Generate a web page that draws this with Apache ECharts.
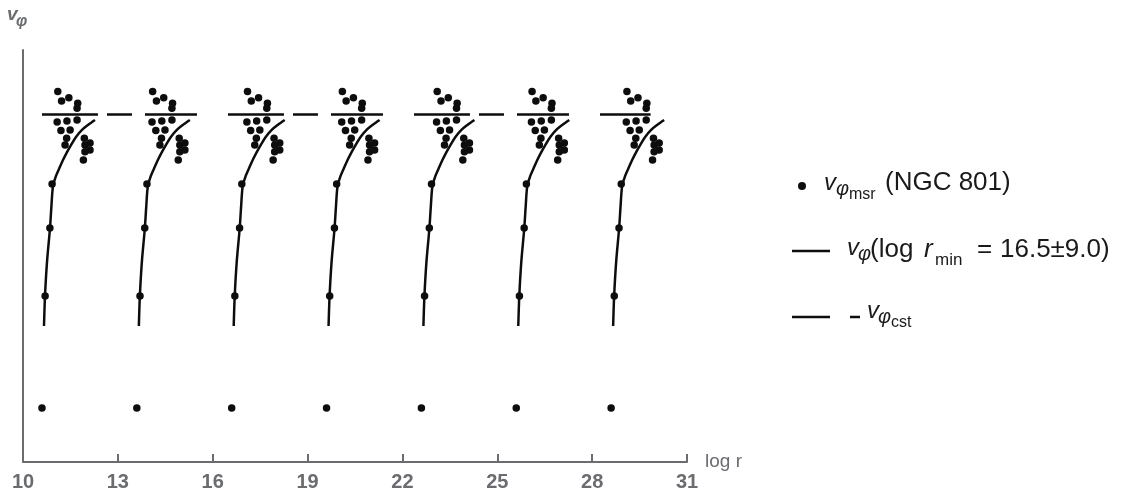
<!DOCTYPE html>
<html>
<head>
<meta charset="utf-8">
<script src="https://cdn.jsdelivr.net/npm/echarts@6/dist/echarts.min.js"></script>
<style>
html,body{margin:0;padding:0;background:#fff;}
#chart{width:1137px;height:495px;}
</style>
</head>
<body>
<div id="chart"></div>
<script>
// ---- data ----
// horizontal shift (in log r) of each repeated cluster
const clusterShifts = [0, 3, 6, 9, 12, 15, 18];
// measured rotation velocities of one cluster (log r, v)
const msrR = [10.60, 10.70, 10.85, 10.92, 11.10, 11.22, 11.45, 11.73, 11.71, 11.08, 11.39, 11.71, 11.20, 11.49, 11.38, 11.33, 11.94, 11.96, 11.96, 11.91, 12.12, 12.12];
const msrV = [39.3, 120.9, 170.4, 202.4, 269.7, 262.9, 265.3, 261.2, 257.6, 247.6, 248.3, 249.0, 241.3, 241.8, 235.7, 230.8, 235.7, 230.8, 226.0, 219.9, 227.2, 232.3];
// model curve of one cluster
const modelR = [10.664, 10.696, 10.759, 10.854, 10.901, 10.949, 11.044, 11.139, 11.265, 11.392, 11.518, 11.676, 11.866, 12.056, 12.277];
const modelV = [99.0, 120.9, 145.6, 170.4, 187.1, 201.0, 208.3, 213.4, 219.9, 225.7, 230.8, 236.7, 241.8, 245.4, 249.0];
// constant velocity line
const cstR = [10.60, 29.85];
const cstV = [253, 253];

const axisGrey = '#6a6c70';
const ink = '#0d0d0d';

const scatterData = [];
clusterShifts.forEach(s => msrR.forEach((r, i) => scatterData.push([r + s, msrV[i]])));

const series = [];
series.push({
  type: 'line', name: 'cst', data: cstR.map((r, i) => [r, cstV[i]]),
  symbol: 'none', silent: true, z: 1,
  lineStyle: {color: ink, width: 2.6, type: [56, 9, 25, 13, 52, 31], cap: 'butt', opacity: 1}
});
clusterShifts.forEach(s => {
  series.push({
    type: 'line', data: modelR.map((r, i) => [r + s, modelV[i]]),
    symbol: 'none', smooth: 0.3, silent: true, z: 2,
    lineStyle: {color: ink, width: 2.5, opacity: 1}
  });
});
series.push({
  type: 'scatter', name: 'msr', data: scatterData, symbol: 'circle', symbolSize: 7.5,
  itemStyle: {color: ink, opacity: 1}, z: 3
});

const FF = '"Liberation Sans", Arial, sans-serif';
function txt(x, y, s, size, opts) {
  return {
    type: 'text', x: x, y: y,
    style: Object.assign({text: s, fontSize: size, fontFamily: FF, fill: '#1a1a1a',
      verticalAlign: 'middle', align: 'left'}, opts || {})
  };
}
const graphic = [
  // y axis label
  txt(7, 15, 'v', 19, {fontStyle: 'italic', fontWeight: 'bold', fill: axisGrey}),
  txt(16, 22, 'φ', 16, {fontStyle: 'italic', fontWeight: 'bold', fill: axisGrey}),
  // legend row 1
  {type: 'circle', shape: {cx: 802, cy: 186, r: 4}, style: {fill: ink}},
  txt(824, 183, 'v', 24, {fontStyle: 'italic'}),
  txt(836, 189, 'φ', 20, {fontStyle: 'italic'}),
  txt(849, 195, 'msr', 16),
  txt(885, 183, '(NGC 801)', 26),
  // legend row 2
  {type: 'line', shape: {x1: 792, y1: 251, x2: 830, y2: 251}, style: {stroke: ink, lineWidth: 2.5}},
  txt(847, 248, 'v', 24, {fontStyle: 'italic'}),
  txt(858, 254, 'φ', 20, {fontStyle: 'italic'}),
  txt(870, 250, '(log ', 26),
  txt(924, 250, 'r', 26, {fontStyle: 'italic'}),
  txt(935, 260, 'min', 17),
  txt(977, 250, '=', 26),
  txt(1000, 250, '16.5±9.0)', 26),
  // legend row 3
  {type: 'line', shape: {x1: 792, y1: 317, x2: 830, y2: 317}, style: {stroke: ink, lineWidth: 2.5}},
  {type: 'line', shape: {x1: 850, y1: 317, x2: 860, y2: 317}, style: {stroke: ink, lineWidth: 2.5}},
  txt(867, 311, 'v', 24, {fontStyle: 'italic'}),
  txt(878, 317, 'φ', 20, {fontStyle: 'italic'}),
  txt(891, 323, 'cst', 16)
];

const chart = echarts.init(document.getElementById('chart'));
chart.setOption({
  animation: false,
  backgroundColor: '#fff',
  grid: {left: 23, right: 450, top: 50, bottom: 33, containLabel: false},
  xAxis: {
    type: 'value', min: 10, max: 31, interval: 3,
    name: 'log r', nameLocation: 'end', nameGap: 18,
    nameTextStyle: {fontSize: 19, color: axisGrey, fontFamily: FF, verticalAlign: 'middle', padding: [0, 0, 6, 0]},
    axisLine: {show: true, lineStyle: {color: axisGrey, width: 2}},
    axisTick: {show: true, inside: true, length: 8, lineStyle: {color: axisGrey, width: 2}},
    axisLabel: {fontSize: 20, fontWeight: 'bold', color: axisGrey, fontFamily: FF, margin: 10},
    splitLine: {show: false}
  },
  yAxis: {
    type: 'value', min: 0, max: 300,
    axisLine: {show: true, onZero: false, lineStyle: {color: axisGrey, width: 2}},
    axisTick: {show: false}, axisLabel: {show: false}, splitLine: {show: false}
  },
  series: series,
  graphic: graphic
});
</script>
</body>
</html>
